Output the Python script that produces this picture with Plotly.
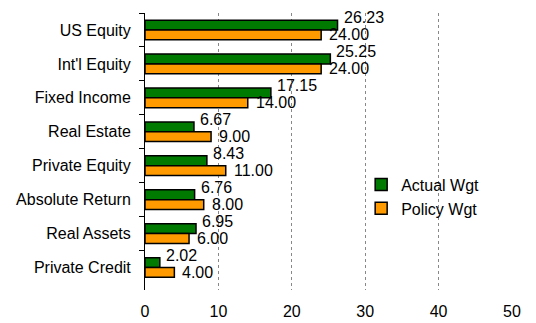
import plotly.graph_objects as go

categories = ["US Equity", "Int'l Equity", "Fixed Income", "Real Estate",
              "Private Equity", "Absolute Return", "Real Assets", "Private Credit"]
actual_wgt = [26.23, 25.25, 17.15, 6.67, 8.43, 6.76, 6.95, 2.02]
policy_wgt = [24.00, 24.00, 14.00, 9.00, 11.00, 8.00, 6.00, 4.00]
x_ticks = [0, 10, 20, 30, 40, 50]

GREEN = "#007A00"
ORANGE = "#FF9A00"
FONT = "Liberation Sans, Arial, sans-serif"
FS = 16

fig = go.Figure()
fig.add_trace(go.Bar(y=categories, x=actual_wgt, orientation="h", name="Actual Wgt",
                     marker=dict(color=GREEN, line=dict(color="black", width=1.5))))
fig.add_trace(go.Bar(y=categories, x=policy_wgt, orientation="h", name="Policy Wgt",
                     marker=dict(color=ORANGE, line=dict(color="black", width=1.5))))

for c, a, p in zip(categories, actual_wgt, policy_wgt):
    fig.add_annotation(x=a, y=c, text=f"{a:.2f}", showarrow=False, xanchor="left",
                       yanchor="middle", xshift=4, yshift=12,
                       font=dict(family=FONT, size=FS, color="black"))
    fig.add_annotation(x=p, y=c, text=f"{p:.2f}", showarrow=False, xanchor="left",
                       yanchor="middle", xshift=6, yshift=-5,
                       font=dict(family=FONT, size=FS, color="black"))

fig.update_layout(
    width=536, height=323,
    margin=dict(l=145, r=24, t=13, b=33),
    paper_bgcolor="white", plot_bgcolor="white",
    barmode="group", bargap=0.42, bargroupgap=0,
    font=dict(family=FONT, size=FS, color="black"),
    showlegend=True,
    legend=dict(x=0.589, y=0.442, xanchor="left", yanchor="top",
                bgcolor="rgba(0,0,0,0)", font=dict(family=FONT, size=FS),
                itemwidth=30, tracegroupgap=0),
)
fig.update_xaxes(range=[0, 50], tickvals=x_ticks, showgrid=True, gridcolor="#888888",
                 griddash="dot", gridwidth=1, zeroline=False, showline=False,
                 ticks="", ticklabelstandoff=10, automargin=False,
                 tickfont=dict(family=FONT, size=FS))
fig.update_yaxes(autorange="reversed", showline=True, linecolor="black", linewidth=1,
                 ticks="outside", tickson="boundaries", ticklen=5, tickcolor="black",
                 showgrid=False, ticklabelstandoff=10, automargin=False,
                 tickfont=dict(family=FONT, size=FS))

fig.write_html("out.html")
